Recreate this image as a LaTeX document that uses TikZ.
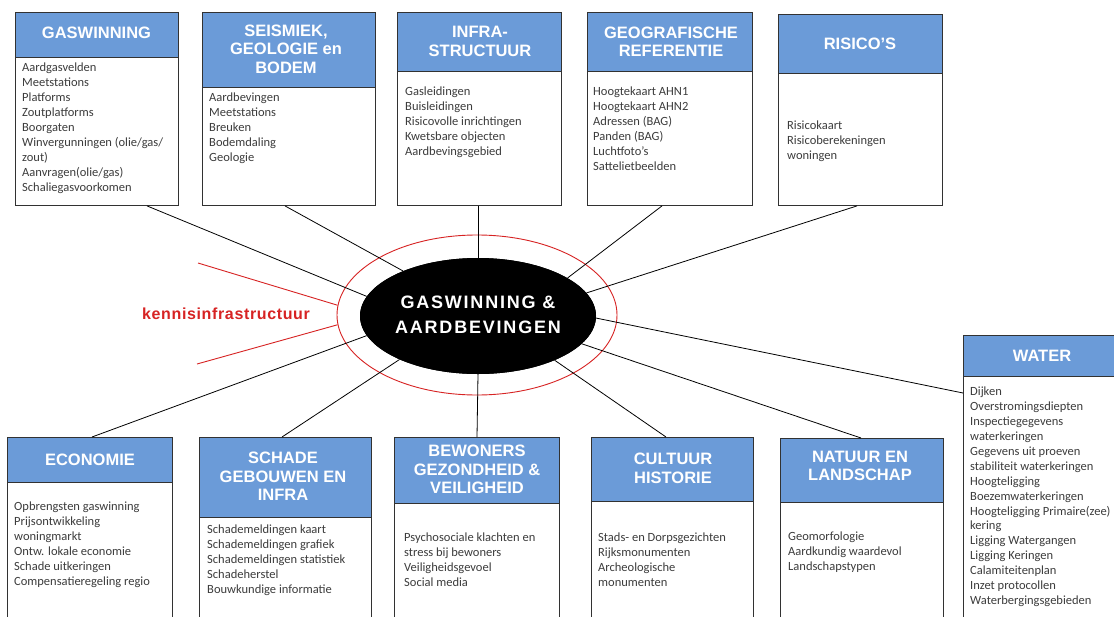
\documentclass[tikz,border=0pt]{standalone}
\usepackage{fontspec}
\setmainfont{Carlito}
\newfontfamily\hdrfont{Liberation Sans}
\newfontfamily\hubfont{Liberation Sans}[LetterSpace=10]
\newfontfamily\kenfont{Liberation Sans}[LetterSpace=4]
\usetikzlibrary{shapes.geometric,calc}
\definecolor{hdrblue}{RGB}{107,155,216}
\definecolor{boxline}{RGB}{50,50,50}
\definecolor{txtgray}{RGB}{60,60,60}
\definecolor{ringred}{RGB}{215,35,35}
\tikzset{
  frame/.style={draw=boxline, fill=white, line width=0.9pt, anchor=north west, inner sep=0pt},
  hdr/.style={draw=boxline, fill=hdrblue, line width=0.9pt, anchor=north west, inner sep=0pt},
  hdrtext/.style={text=white, align=center, inner sep=0pt, font=\hdrfont\bfseries\fontsize{16.5}{18.5}\selectfont},
  bodytext/.style={text=txtgray, align=left, anchor=north west, inner sep=0pt, font=\fontsize{12.5}{14.9}\selectfont},
  conn/.style={draw=black, line width=0.8pt},
  redconn/.style={draw=ringred, line width=0.9pt},
  hubell/.style={ellipse, fill=black, minimum width=236pt, minimum height=116pt, inner sep=0pt},
  ringell/.style={ellipse, draw=ringred, line width=0.9pt, minimum width=280pt, minimum height=160pt, inner sep=0pt},
  hubtext/.style={text=white, align=center, inner sep=0pt, font=\hubfont\bfseries\fontsize{18}{25}\selectfont},
  kentext/.style={text=ringred, inner sep=0pt, font=\kenfont\bfseries\fontsize{16}{18}\selectfont}
}
\begin{document}
\begin{tikzpicture}[x=1pt,y=-1pt]
\clip (0,0) rectangle (1114,616);
\fill[white] (0,0) rectangle (1114,616);

% centre
\node[ringell] (ring) at (477,315) {};

% connectors (drawn first, hub covers their ends)
\coordinate (redA) at (198,263);
\coordinate (redB) at (197,364);

% top boxes
\node[frame, minimum width=163pt, minimum height=193pt] (gas) at (15,12) {};
\node[hdr, minimum width=163pt, minimum height=45pt] (gash) at (15,12) {};
\node[hdrtext] (gast) at (96.5,33) {GASWINNING};
\node[bodytext] (gasb) at (22,63) {Aardgasvelden\\Meetstations\\Platforms\\Zoutplatforms\\Boorgaten\\Winvergunningen (olie/gas/\\zout)\\Aanvragen(olie/gas)\\Schaliegasvoorkomen};

\node[frame, minimum width=173pt, minimum height=193pt] (seis) at (202,12) {};
\node[hdr, minimum width=173pt, minimum height=75pt] (seish) at (202,12) {};
\node[hdrtext] (seist) at (286,49) {SEISMIEK,\\GEOLOGIE en\\BODEM};
\node[bodytext] (seisb) at (209,93) {Aardbevingen\\Meetstations\\Breuken\\Bodemdaling\\Geologie};

\node[frame, minimum width=164pt, minimum height=193pt] (infra) at (397,12) {};
\node[hdr, minimum width=164pt, minimum height=59pt] (infrah) at (397,12) {};
\node[hdrtext] (infrat) at (480,41.5) {INFRA-\\STRUCTUUR};
\node[bodytext] (infrab) at (405,87) {Gasleidingen\\Buisleidingen\\Risicovolle inrichtingen\\Kwetsbare objecten\\Aardbevingsgebied};

\node[frame, minimum width=165pt, minimum height=193pt] (geo) at (587,12) {};
\node[hdr, minimum width=165pt, minimum height=59pt] (geoh) at (587,12) {};
\node[hdrtext] (geot) at (671,41.5) {GEOGRAFISCHE\\REFERENTIE};
\node[bodytext] (geob) at (593,87) {Hoogtekaart AHN1\\Hoogtekaart AHN2\\Adressen (BAG)\\Panden (BAG)\\Luchtfoto’s\\Sattelietbeelden};

\node[frame, minimum width=164pt, minimum height=191pt] (ris) at (778,14) {};
\node[hdr, minimum width=164pt, minimum height=59pt] (rish) at (778,14) {};
\node[hdrtext] (rist) at (860,43.5) {RISICO’S};
\node[bodytext] (risb) at (787,121) {Risicokaart\\Risicoberekeningen\\woningen};

% bottom boxes
\node[frame, minimum width=165pt, minimum height=200pt] (econ) at (7,437) {};
\node[hdr, minimum width=165pt, minimum height=45pt] (econh) at (7,437) {};
\node[hdrtext] (econt) at (90,459.5) {ECONOMIE};
\node[bodytext] (econb) at (14,502) {Opbrengsten gaswinning\\Prijsontwikkeling\\woningmarkt\\Ontw. lokale economie\\Schade uitkeringen\\Compensatieregeling regio};

\node[frame, minimum width=172pt, minimum height=200pt] (schade) at (199,437) {};
\node[hdr, minimum width=172pt, minimum height=80pt] (schadeh) at (199,437) {};
\node[hdrtext] (schadet) at (283,476.5) {SCHADE\\GEBOUWEN EN\\INFRA};
\node[bodytext] (schadeb) at (207,525) {Schademeldingen kaart\\Schademeldingen grafiek\\Schademeldingen statistiek\\Schadeherstel\\Bouwkundige informatie};

\node[frame, minimum width=165pt, minimum height=200pt] (bew) at (394,437) {};
\node[hdr, minimum width=165pt, minimum height=66pt] (bewh) at (394,437) {};
\node[hdrtext] (bewt) at (477,469.5) {BEWONERS\\GEZONDHEID \&\\VEILIGHEID};
\node[bodytext] (bewb) at (404,533) {Psychosociale klachten en\\stress bij bewoners\\Veiligheidsgevoel\\Social media};

\node[frame, minimum width=162pt, minimum height=200pt] (cult) at (591,437) {};
\node[hdr, minimum width=162pt, minimum height=64pt] (culth) at (591,437) {};
\node[hdrtext] (cultt) at (673,468.5) {CULTUUR\\HISTORIE};
\node[bodytext] (cultb) at (598,533) {Stads- en Dorpsgezichten\\Rijksmonumenten\\Archeologische\\monumenten};

\node[frame, minimum width=163pt, minimum height=200pt] (nat) at (780,438) {};
\node[hdr, minimum width=163pt, minimum height=64pt] (nath) at (780,438) {};
\node[hdrtext] (natt) at (860,466) {NATUUR EN\\LANDSCHAP};
\node[bodytext] (natb) at (788,532) {Geomorfologie\\Aardkundig waardevol\\Landschapstypen};

\node[frame, minimum width=158pt, minimum height=300pt] (water) at (963,335) {};
\node[hdr, minimum width=158pt, minimum height=41pt] (waterh) at (963,335) {};
\node[hdrtext] (watert) at (1042,356) {WATER};
\node[bodytext] (waterb) at (970,387) {Dijken\\Overstromingsdiepten\\Inspectiegegevens\\waterkeringen\\Gegevens uit proeven\\stabiliteit waterkeringen\\Hoogteligging\\Boezemwaterkeringen\\Hoogteligging Primaire(zee)\\kering\\Ligging Watergangen\\Ligging Keringen\\Calamiteitenplan\\Inzet protocollen\\Waterbergingsgebieden};

% hub
\node[hubell] (hub) at (478,316) {};

\draw[conn] ($(gas.south west)+(132,0)$) -- (hub.170);
\draw[conn] ($(seis.south west)+(83,0)$) -- (hub.149);
\draw[conn] ($(infra.south west)+(81,0)$) -- (hub.north);
\draw[conn] ($(geo.south west)+(75,0)$) -- (hub.23);
\draw[conn] ($(ris.south west)+(79,0)$) -- (hub.12);
\draw[conn] ($(water.north west)+(0,58)$) -- (hub.-1);
\draw[conn] ($(nat.north west)+(81,0)$) -- (hub.-15);
\draw[conn] ($(cult.north west)+(75,0)$) -- (hub.-30);
\draw[conn] ($(bew.north west)+(83,0)$) -- (hub.south);
\draw[conn] ($(schade.north west)+(83,0)$) -- (hub.209);
\draw[conn] ($(econ.north west)+(85,0)$) -- (hub.190);
\draw[redconn] (redA) -- (ring.176);
\draw[redconn] (redB) -- (ring.184);

\node[hubell] (hubtop) at (478,316) {};
\node[hubtext] (hubt) at (478,314.5) {GASWINNING \&\\AARDBEVINGEN};
\node[kentext] (ken) at (226,314) {kennisinfrastructuur};
\end{tikzpicture}
\end{document}
